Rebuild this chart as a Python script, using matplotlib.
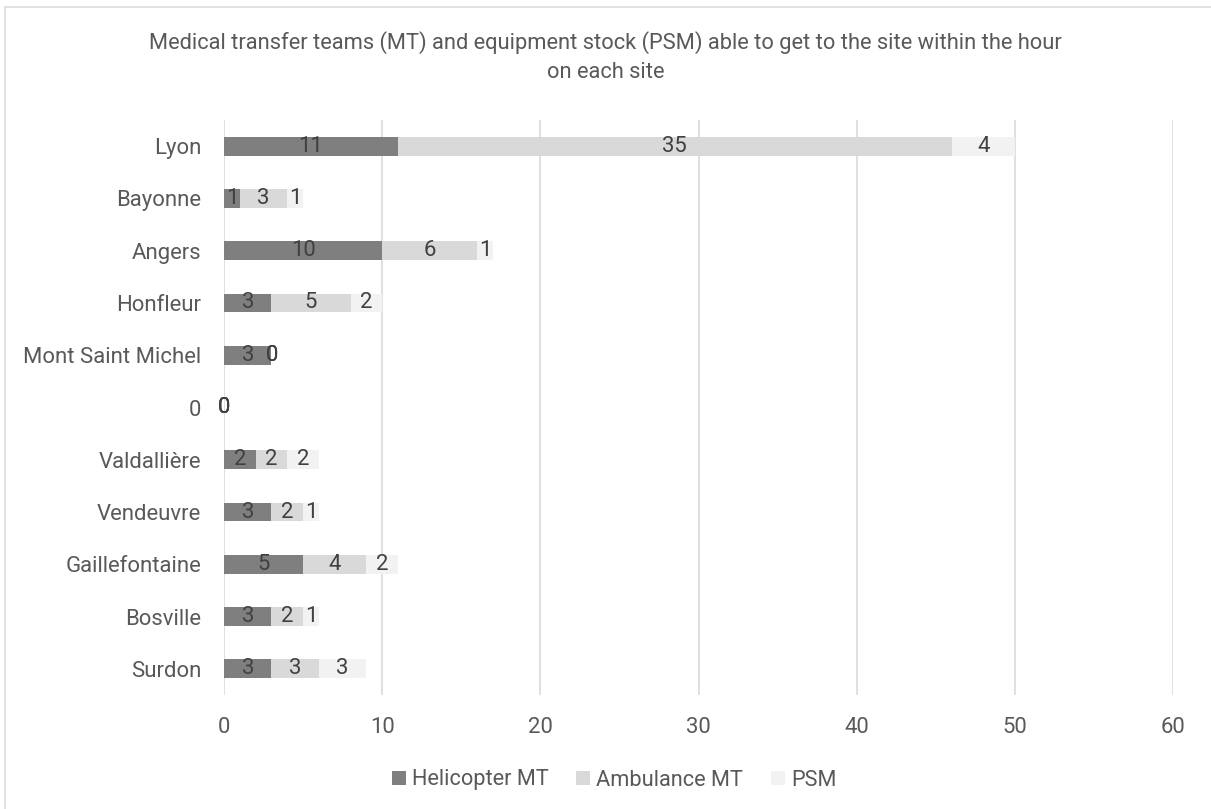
import matplotlib
matplotlib.use("Agg")
import matplotlib.pyplot as plt
import numpy as np
from matplotlib.lines import Line2D

# ---- data ----
categories = ["Lyon", "Bayonne", "Angers", "Honfleur", "Mont Saint Michel", "0",
              "Valdallière", "Vendeuvre", "Gaillefontaine", "Bosville", "Surdon"]
helicopter_mt = [11, 1, 10, 3, 3, 0, 2, 3, 5, 3, 3]
ambulance_mt = [35, 3, 6, 5, 0, 0, 2, 2, 4, 2, 3]
psm = [4, 1, 1, 2, 0, 0, 2, 1, 2, 1, 3]
series_names = ["Helicopter MT", "Ambulance MT", "PSM"]
x_ticks = [0, 10, 20, 30, 40, 50, 60]
title_lines = ["Medical transfer teams (MT) and equipment stock (PSM) able to get to the site within the hour",
               "on each site"]

W, H, DPI = 1211, 809, 100
FAM = "Roboto"
TXT = "#595959"
LBL = "#404040"
GRID = "#d9d9d9"
colors = ["#7f7f7f", "#d9d9d9", "#f2f2f2"]

fig = plt.figure(figsize=(W / DPI, H / DPI), dpi=DPI)
renderer = fig.canvas.get_renderer()


def fit(text, target_px):
    t = fig.text(0, 0, text, fontsize=10, family=FAM)
    w = t.get_window_extent(renderer).width
    t.remove()
    return 10 * target_px / w


fs_tick = fit("Mont Saint Michel", 178)
fs_title = fit(title_lines[0], 916)
fs_leg = fit("Helicopter MT", 137)

def fx(px):
    return px / W

def fy(py):
    return 1 - py / H

ax = fig.add_axes([fx(224), fy(695), fx(1173) - fx(224), fy(120) - fy(695)])

y = np.arange(len(categories))
bh = 0.36
left = np.zeros(len(categories))
for vals, c, name in zip([helicopter_mt, ambulance_mt, psm], colors, series_names):
    bars = ax.barh(y, vals, height=bh, left=left, color=c, label=name, zorder=3)
    ax.bar_label(bars, labels=[str(v) for v in vals], label_type="center",
                 fontsize=fs_tick, color=LBL, family=FAM, zorder=4)
    left = left + np.array(vals)

ax.set_ylim(len(categories) - 0.5, -0.5)
ax.set_xlim(x_ticks[0], x_ticks[-1])
ax.set_xticks(x_ticks)
ax.set_xticklabels([str(t) for t in x_ticks])
ax.set_yticks(y)
ax.set_yticklabels(categories)
ax.tick_params(axis="both", length=0, labelsize=fs_tick, labelcolor=TXT)
ax.tick_params(axis="y", pad=23 * 72 / DPI)
ax.tick_params(axis="x", pad=22 * 72 / DPI)
for lab in ax.get_xticklabels() + ax.get_yticklabels():
    lab.set_family(FAM)
for s in ax.spines.values():
    s.set_visible(False)
ax.xaxis.grid(True, color=GRID, linewidth=1.6 * 72 / DPI, zorder=0)
ax.set_axisbelow(True)

# title
fig.text(0.5, fy(43), title_lines[0], ha="center", va="center", fontsize=fs_title, color=TXT, family=FAM)
fig.text(0.5, fy(73), title_lines[1], ha="center", va="center", fontsize=fs_title, color=TXT, family=FAM)

# legend
handles, labels = ax.get_legend_handles_labels()
leg_px = fs_leg * DPI / 72
fig.legend(handles, labels, loc="center", bbox_to_anchor=(fx(614), fy(780)), ncol=3,
           frameon=False, prop={"family": FAM, "size": fs_leg}, labelcolor=TXT,
           handlelength=14 / leg_px, handleheight=14 / leg_px,
           handletextpad=6 / leg_px, columnspacing=28 / leg_px, borderpad=0)

# chart border (top/left visible; right/bottom cropped)
fig.add_artist(Line2D([fx(5), 1], [fy(7), fy(7)], color=GRID, linewidth=1.5 * 72 / DPI))
fig.add_artist(Line2D([fx(5), fx(5)], [fy(7), 0], color=GRID, linewidth=1.5 * 72 / DPI))

fig.savefig("out.png", dpi=DPI)
